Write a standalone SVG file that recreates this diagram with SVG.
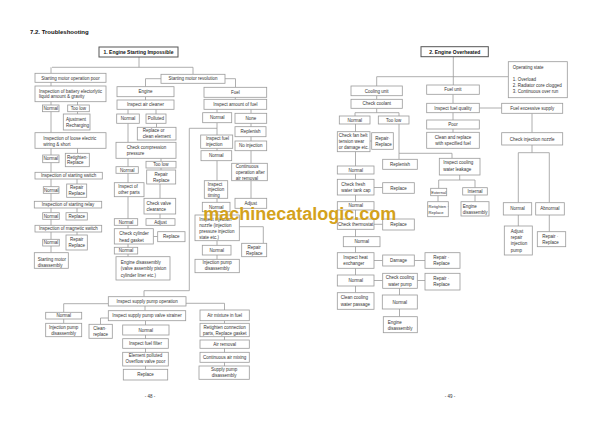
<svg xmlns="http://www.w3.org/2000/svg" width="600" height="425" viewBox="0 0 600 425">
<style>
rect{fill:#fff;stroke:#9a9a9a;stroke-width:0.8}
rect.h{stroke:#555;stroke-width:1}
text{font-family:"Liberation Sans",Arial,sans-serif;font-size:4.5px;fill:#333}
.c{text-anchor:middle}
.bd{font-weight:bold;font-size:5px;fill:#111}
.s{font-size:4.1px}
#connectors path{fill:none;stroke:#9a9a9a;stroke-width:0.8}
</style>
<rect x="0" y="0" width="600" height="425" style="fill:#fff;stroke:none"/>
<text x="30" y="33.5" style="font-weight:bold;font-size:6px;fill:#111">7.2. Troubleshooting</text>
<g id="connectors">
<path d="M139 57V67.3M52 67.3H193M51 67.3V73.3M193 67.3V74.3"/>
<path d="M51 82V252.7"/>
<path d="M77.5 101.7V114M77.5 148.3V153.3M77 179V184M77 208V212.7M77 232V235"/>
<path d="M161 78.7H145.5V86.7M225 78.7H235.5V87.3M145.5 96.7V100M128 109.3V114M156 109.3V114"/>
<path d="M128 123.3V256.7M156.5 123.3V127.3M161 158.3V161.3M161 168V170M160 184V198.3M160 214V218.7M153.3 236.5H157.7"/>
<path d="M235.3 97.3V99.3M217 109.3V112.7M251 109.3V113.3M251 123.3V198.3M217 122.7V259.3M217 128.3H189.3V290.7H144V296.7M239.3 226.7H263.3V243.3"/>
<path d="M108.3 303.7H63.7V312.3M63.7 319V323.3M145 306V310.7M186 303.3H224.5V310M108.3 318H100.5V324.3M145.5 320.7V369.3M224.5 320.7V366"/>
<path d="M453.3 56.7V85M376.7 76.7H508.3M376.7 76.7V86M376.7 95.7V99.3M376.7 108.3V112.7M355 112.7H399M355 112.7V116M399 112.7V116M399 124V159.3"/>
<path d="M355.5 124V292.7M370 141H371.7M374 187.5H382.7M374 224.3H382.7M374 260.5H382.7M414.3 260.5H425M374 280.5H382.7M417.3 280.5H425M399.5 288.3V316.7"/>
<path d="M399 153.3H452V158.3M453 94.3V148.3M479.3 108H501.7M459.7 175V180M438.7 180H475M438.7 180V188.3M475 180V187.7M438 195.7V201.7M475 195V201.7"/>
<path d="M532 113.3V132.7M532 145V152.7M518.3 152.7H549.3M518.3 152.7V202.7M549.3 152.7V202.7M518.3 215V226M549.3 215V231.7"/>
</g>
<g id="n1"><rect class="h" x="99" y="47" width="79" height="10"/><text class="c bd" x="138.5" y="53.8">1. Engine Starting Impossible</text></g>
<g id="a1"><rect x="35" y="73.3" width="71" height="9"/><text class="c" x="70.5" y="79.5">Starting motor operation poor</text></g>
<g id="a2"><rect x="35" y="86" width="71" height="15.7"/><text x="39" y="92.6">Inspection of battery electorlytic<tspan x="39" y="98.3">liquid amount &amp; gravity</tspan></text></g>
<g id="a3"><rect x="42.5" y="105" width="16.5" height="6.7"/><text class="c" x="50.75" y="110">Normal</text></g>
<g id="a4"><rect x="67.7" y="105" width="21.6" height="6.7"/><text class="c" x="78.5" y="110">Too low</text></g>
<g id="a5"><rect x="63.3" y="114" width="26.7" height="16"/><text x="66" y="121">Ajustment<tspan x="66" y="127">Recharging</tspan></text></g>
<g id="a6"><rect x="35" y="132.7" width="71" height="15.6"/><text x="43.3" y="140">Inspection of loose electric<tspan x="43.3" y="145.6">wiring &amp; short</tspan></text></g>
<g id="a7"><rect x="42.7" y="155" width="16.3" height="7.7"/><text class="c" x="50.85" y="160.4">Normal</text></g>
<g id="a8"><rect x="65.3" y="153.3" width="24" height="13.4"/><text x="67" y="158.9">Retighten·<tspan x="67" y="164.3">Replace</tspan></text></g>
<g id="a9"><rect x="35" y="172.3" width="67.3" height="6.7"/><text class="c" x="68.6" y="177.3">Inspection of starting switch</text></g>
<g id="a10"><rect x="43.3" y="186.7" width="15.7" height="6.6"/><text class="c" x="51.15" y="191.6">Normal</text></g>
<g id="a11"><rect x="66.7" y="184" width="20" height="13.3"/><text class="c" x="76.7" y="189.3">Repair<tspan x="76.7" y="195.3">Replace</tspan></text></g>
<g id="a12"><rect x="34.3" y="201.3" width="67.4" height="6.7"/><text class="c" x="68" y="206.2">Inspection of starting relay</text></g>
<g id="a13"><rect x="42.7" y="212.7" width="16.6" height="6.6"/><text class="c" x="51" y="217.6">Normal</text></g>
<g id="a14"><rect x="66" y="212.7" width="21.3" height="7.3"/><text class="c" x="76.65" y="217.9">Replace</text></g>
<g id="a15"><rect x="35" y="225.3" width="66.7" height="6.7"/><text class="c" x="68.35" y="230.2">Inspection of magnetic switch</text></g>
<g id="a16"><rect x="42.7" y="239.3" width="16.6" height="6.7"/><text class="c" x="51" y="244.2">Normal</text></g>
<g id="a17"><rect x="66" y="235" width="21.3" height="15"/><text class="c" x="76.65" y="240.9">Repair<tspan x="76.65" y="247.3">Replace</tspan></text></g>
<g id="a18"><rect x="34.3" y="252.7" width="34" height="15.6"/><text x="37.7" y="260.6">Starting motor<tspan x="37.7" y="266.6">disassembly</tspan></text></g>
<g id="b1"><rect x="161" y="74.3" width="64" height="9"/><text class="c" x="193" y="80.3">Starting motor revolution</text></g>
<g id="b2"><rect x="117" y="86.7" width="57" height="10"/><text class="c" x="145.5" y="93.3">Engine</text></g>
<g id="b3"><rect x="117" y="100" width="57" height="9.3"/><text class="c" x="145.5" y="106.2">Inspect air cleaner</text></g>
<g id="b4"><rect x="116.7" y="114" width="22.6" height="9.3"/><text class="c" x="128" y="120.2">Normal</text></g>
<g id="b5"><rect x="146" y="114" width="20" height="9.3"/><text class="c" x="156" y="120.2">Polluted</text></g>
<g id="b6"><rect x="137.3" y="127.3" width="38.7" height="12.7"/><text x="142.7" y="132.3">Replace or<tspan x="142.7" y="138.3">clean element</tspan></text></g>
<g id="b7"><rect x="116" y="142.3" width="60" height="16"/><text x="126.7" y="149">Check compression<tspan x="126.7" y="155">pressure</tspan></text></g>
<g id="b8"><rect x="116" y="166.7" width="22.3" height="6.6"/><text class="c" x="127.15" y="171.6">Normal</text></g>
<g id="b9"><rect x="146" y="161.3" width="30" height="6.7"/><text class="c" x="161" y="166.2">Too low</text></g>
<g id="b10"><rect x="146.7" y="170" width="29" height="14"/><text class="c" x="161.2" y="176">Repair<tspan x="161.2" y="181.6">Replace</tspan></text></g>
<g id="b11"><rect x="114.3" y="182.7" width="29.7" height="14"/><text x="118.3" y="187.6">Inspect of<tspan x="118.3" y="194">other parts</tspan></text></g>
<g id="b12"><rect x="144" y="198.3" width="31.7" height="15.7"/><text x="146.5" y="204.6">Check valve<tspan x="146.5" y="211">clearance</tspan></text></g>
<g id="b13"><rect x="114.3" y="218.7" width="23.4" height="6.6"/><text class="c" x="126" y="223.6">Normal</text></g>
<g id="b14"><rect x="146" y="218.7" width="29" height="6.6"/><text class="c" x="160.5" y="223.6">Adjust</text></g>
<g id="b15"><rect x="114.3" y="228.7" width="39" height="15.3"/><text x="119.3" y="235">Check cylinder<tspan x="119.3" y="241.6">head gasket</tspan></text></g>
<g id="b16"><rect x="157.7" y="231.7" width="27.3" height="10"/><text class="c" x="171.3" y="238.3">Replace</text></g>
<g id="b17"><rect x="114.3" y="247.3" width="23.4" height="6.7"/><text class="c" x="126" y="252.2">Normal</text></g>
<g id="b18"><rect x="116" y="256.7" width="54" height="23.3"/><text x="120.7" y="264.3">Engine disassembly<tspan x="120.7" y="270.3">(valve assembly piston</tspan><tspan x="120.7" y="276.6">cylinder liner etc.)</tspan></text></g>
<g id="c1"><rect x="204" y="87.3" width="62.7" height="10"/><text class="c" x="235.3" y="93.9">Fuel</text></g>
<g id="c2"><rect x="204" y="99.3" width="62.7" height="10"/><text class="c" x="235.3" y="105.9">Inspect amount of fuel</text></g>
<g id="c3"><rect x="202.7" y="112.7" width="29" height="10"/><text class="c" x="217.2" y="119.3">Normal</text></g>
<g id="c4"><rect x="235" y="113.3" width="31.7" height="10"/><text class="c" x="250.8" y="119.9">None</text></g>
<g id="c5"><rect x="235" y="126.7" width="31" height="10"/><text class="c" x="250.5" y="133.3">Replenish</text></g>
<g id="c6"><rect x="235" y="141" width="31.7" height="9.7"/><text class="c" x="250.8" y="147.4">No injection</text></g>
<g id="c7"><rect x="200.7" y="135" width="32" height="13.3"/><text x="206" y="140">Inspect fuel<tspan x="206" y="146">injection</tspan></text></g>
<g id="c8"><rect x="201" y="150.7" width="30.7" height="10"/><text class="c" x="216.3" y="157.3">Normal</text></g>
<g id="c9"><rect x="231.7" y="163.3" width="35.6" height="17.4"/><text x="235.7" y="167.6">Continuous<tspan x="235.7" y="173.6">operation after</tspan><tspan x="235.7" y="179.6">air removal</tspan></text></g>
<g id="c10"><rect x="204.3" y="180.7" width="23.4" height="17.6"/><text x="207.7" y="185.6">Inspect<tspan x="207.7" y="191.3">injection</tspan><tspan x="207.7" y="197">timing</tspan></text></g>
<g id="c11"><rect x="202.3" y="202.3" width="27.7" height="9.4"/><text class="c" x="216.2" y="208.6">Normal</text></g>
<g id="c12"><rect x="235" y="198.3" width="31.7" height="10"/><text class="c" x="250.8" y="204.9">Adjust</text></g>
<g id="c13"><rect x="195" y="215" width="44.3" height="25.7"/><text x="199.3" y="221">Inspect injection<tspan x="199.3" y="227">nozzle (injection</tspan><tspan x="199.3" y="233">pressure injection</tspan><tspan x="199.3" y="239.3">state etc.)</tspan></text></g>
<g id="c14"><rect x="241.7" y="243.3" width="25" height="13.4"/><text class="c" x="254.2" y="249">Repair<tspan x="254.2" y="255">Replace</tspan></text></g>
<g id="c15"><rect x="202.3" y="245.3" width="28.7" height="9.7"/><text class="c" x="216.7" y="251.7">Normal</text></g>
<g id="c16"><rect x="195" y="259.3" width="44.3" height="13.4"/><text class="c" x="217.2" y="264.3">Injection pump<tspan x="217.2" y="270.3">disassembly</tspan></text></g>
<g id="d1"><rect x="108.3" y="296.7" width="77.7" height="9.3"/><text class="c" x="147.2" y="302.9">Inspect supply pump operation</text></g>
<g id="d2"><rect x="45.7" y="312.3" width="36" height="6.7"/><text class="c" x="63.7" y="317.2">Normal</text></g>
<g id="d3"><rect x="45.7" y="323.3" width="36" height="13.4"/><text class="c" x="63.7" y="328.6">Injection pump<tspan x="63.7" y="334.6">disassembly</tspan></text></g>
<g id="d4"><rect x="108.3" y="310.7" width="77.4" height="10"/><text class="c" x="147" y="317.3">Inspect supply pump valve strainer</text></g>
<g id="d5"><rect x="89" y="324.3" width="23.3" height="14"/><text x="93.3" y="330">Clean·<tspan x="93.3" y="336">replace</tspan></text></g>
<g id="d6"><rect x="122.7" y="325" width="46.3" height="10"/><text class="c" x="145.8" y="331.6">Normal</text></g>
<g id="d7"><rect x="122.7" y="338.7" width="45.6" height="9.6"/><text class="c" x="145.5" y="345.1">Inspect fuel filter</text></g>
<g id="d8"><rect x="122.7" y="352.3" width="45.6" height="13.7"/><text class="c" x="145.5" y="357.3">Element polluted<tspan x="145.5" y="363.3">Overflow valve poor</tspan></text></g>
<g id="d9"><rect x="123.3" y="369.3" width="44.4" height="10.7"/><text class="c" x="145.5" y="376.2">Replace</text></g>
<g id="e1"><rect x="200" y="310" width="49.3" height="10.7"/><text class="c" x="224.7" y="316.9">Air mixture in fuel</text></g>
<g id="e2"><rect x="200" y="323.3" width="49.3" height="13.4"/><text class="c" x="224.7" y="328.6">Retighten connection<tspan x="224.7" y="334.6">parts, Replace gasket</tspan></text></g>
<g id="e3"><rect x="200" y="340" width="49.3" height="8.3"/><text class="c" x="224.7" y="345.7">Air removal</text></g>
<g id="e4"><rect x="200" y="352.3" width="49.3" height="10"/><text class="c" x="224.7" y="358.9">Continuous air mixing</text></g>
<g id="e5"><rect x="199" y="366" width="50.3" height="13.3"/><text class="c" x="224.2" y="371">Supply pump<tspan x="224.2" y="377">disassembly</tspan></text></g>
<text class="c" x="150" y="398.3">- 48 -</text>
<text class="c" x="450" y="398.3">- 49 -</text>
<g id="f0"><rect class="h" x="421" y="46.7" width="67.3" height="10"/><text class="c bd" x="454.7" y="53.5">2. Engine Overheated</text></g>
<g id="f1"><rect x="508.3" y="61.7" width="59" height="36"/><text x="512.7" y="69.3">Operating state<tspan x="512.7" y="80.9">1. Overload</tspan><tspan x="512.7" y="86.9">2. Radiator core clogged</tspan><tspan x="512.7" y="93.3">3. Continuous over run</tspan></text></g>
<g id="g1"><rect x="351" y="86" width="51.3" height="9.7"/><text class="c" x="376.7" y="92.5">Cooling unit</text></g>
<g id="g2"><rect x="351" y="99.3" width="51.3" height="9"/><text class="c" x="376.7" y="105.4">Check coolant</text></g>
<g id="g3"><rect x="339.3" y="116" width="30.7" height="8"/><text class="c" x="354.7" y="121.6">Normal</text></g>
<g id="g4"><rect x="378.3" y="116" width="30.7" height="8"/><text class="c" x="393.7" y="121.6">Too low</text></g>
<g id="g5"><rect x="337.3" y="131.7" width="32.7" height="20"/><text x="338.8" y="136.6">Check fan belt<tspan x="338.8" y="142.6">tension wear</tspan><tspan x="338.8" y="149">or damage etc.</tspan></text></g>
<g id="g6"><rect x="371.7" y="132.7" width="21.6" height="16.6"/><text x="375.3" y="140">Repair·<tspan x="375.3" y="145.6">Replace</tspan></text></g>
<g id="g7"><rect x="382.7" y="159.3" width="34.6" height="10"/><text class="c" x="400" y="165.9">Replenish</text></g>
<g id="g8"><rect x="337.3" y="166" width="36.7" height="8"/><text class="c" x="355.7" y="171.6">Normal</text></g>
<g id="g9"><rect x="337.3" y="179.3" width="36.7" height="15.7"/><text x="341.3" y="186">Check fresh<tspan x="341.3" y="192.3">water tank cap</tspan></text></g>
<g id="g10"><rect x="382.7" y="182.7" width="31.6" height="10.6"/><text class="c" x="398.5" y="189.6">Replace</text></g>
<g id="g11"><rect x="337.3" y="201.7" width="36.7" height="8.3"/><text class="c" x="355.7" y="207.4">Normal</text></g>
<g id="g12"><rect x="337.3" y="219" width="36.7" height="10.3"/><text class="c" x="355.7" y="225.7">Check thermostat</text></g>
<g id="g13"><rect x="382.7" y="219" width="31.6" height="11"/><text class="c" x="398.5" y="226.1">Replace</text></g>
<g id="g14"><rect x="343.3" y="236.7" width="36.7" height="10"/><text class="c" x="361.7" y="243.3">Normal</text></g>
<g id="g15"><rect x="337.3" y="252.7" width="36.7" height="15.6"/><text x="343.3" y="259.3">Inspect heat<tspan x="343.3" y="265.3">exchanger</tspan></text></g>
<g id="g16"><rect x="382.7" y="255" width="31.6" height="11"/><text class="c" x="398.5" y="262.1">Damage</text></g>
<g id="g17"><rect x="425" y="252.7" width="35" height="15.6"/><text x="433.3" y="259">Repair ·<tspan x="433.3" y="265">Replace</tspan></text></g>
<g id="g18"><rect x="337.3" y="275" width="36.7" height="11"/><text class="c" x="355.7" y="282.1">Normal</text></g>
<g id="g19"><rect x="382.7" y="273.3" width="34.6" height="15"/><text class="c" x="400" y="279.3">Check cooling<tspan x="400" y="285.6">water pump</tspan></text></g>
<g id="g20"><rect x="425" y="273.3" width="35" height="16.7"/><text x="433.3" y="280">Repair ·<tspan x="433.3" y="286">Replace</tspan></text></g>
<g id="g21"><rect x="337.3" y="292.7" width="36.7" height="16.6"/><text x="340.7" y="299.3">Clean cooling<tspan x="340.7" y="306">water passage</tspan></text></g>
<g id="g22"><rect x="382.3" y="295" width="35" height="14"/><text class="c" x="399.8" y="303.6">Normal</text></g>
<g id="g23"><rect x="383.3" y="316.7" width="34" height="16"/><text x="387.7" y="324">Engine<tspan x="387.7" y="330">disassembly</tspan></text></g>
<g id="h1"><rect x="426.7" y="85" width="52.6" height="9.3"/><text class="c" x="453" y="91.3">Fuel unit</text></g>
<g id="h2"><rect x="426.7" y="103.3" width="52.6" height="9.4"/><text class="c" x="453" y="109.6">Inspect fuel quality</text></g>
<g id="h3"><rect x="501.7" y="103.3" width="61" height="10"/><text class="c" x="532.2" y="109.9">Fuel excessive supply</text></g>
<g id="h4"><rect x="426.7" y="120" width="52.6" height="9"/><text class="c" x="453" y="126.1">Poor</text></g>
<g id="h5"><rect x="426.7" y="132.3" width="52.6" height="16"/><text class="c" x="453" y="139">Clean and replace<tspan x="453" y="145">with specified fuel</tspan></text></g>
<g id="h6"><rect x="439.3" y="158.3" width="40.7" height="16.7"/><text x="443.3" y="164.3">Inspect cooling<tspan x="443.3" y="170.6">water leakage</tspan></text></g>
<g id="h7"><rect x="501.7" y="132.7" width="61" height="12.3"/><text class="c" x="532.2" y="140.5">Check injection nozzle</text></g>
<g id="h8"><rect x="430.7" y="188.3" width="16" height="7.4"/><text class="c s" x="438.7" y="193.5">External</text></g>
<g id="h9"><rect x="462.7" y="187.7" width="24.6" height="7.3"/><text class="c" x="475" y="193">Internal</text></g>
<g id="h10"><rect x="427.7" y="201.7" width="20.6" height="15"/><text class="s" x="428.6" y="207.6">Retighten ·<tspan x="428.6" y="214">Replace</tspan></text></g>
<g id="h11"><rect x="461" y="201.7" width="28" height="14.3"/><text x="462.7" y="207.6">Engine<tspan x="462.7" y="214">disassembly</tspan></text></g>
<g id="h12"><rect x="503.3" y="202.7" width="28.4" height="12.3"/><text class="c" x="517.5" y="210.4">Normal</text></g>
<g id="h13"><rect x="535.7" y="202.7" width="28.6" height="12.3"/><text class="c" x="550" y="210.4">Abnormal</text></g>
<g id="h14"><rect x="504.3" y="226" width="28" height="29"/><text x="510.7" y="233">Adjust<tspan x="510.7" y="239">repair</tspan><tspan x="510.7" y="245.3">injection</tspan><tspan x="510.7" y="251.6">pump</tspan></text></g>
<g id="h15"><rect x="537.3" y="231.7" width="28.4" height="15"/><text x="542.3" y="238">Repair ·<tspan x="542.3" y="244">Replace</tspan></text></g>
<text x="203.3" y="219.5" style="font-weight:bold;font-size:18px;fill:#d4a21c">machinecatalogic.com</text>
</svg>
